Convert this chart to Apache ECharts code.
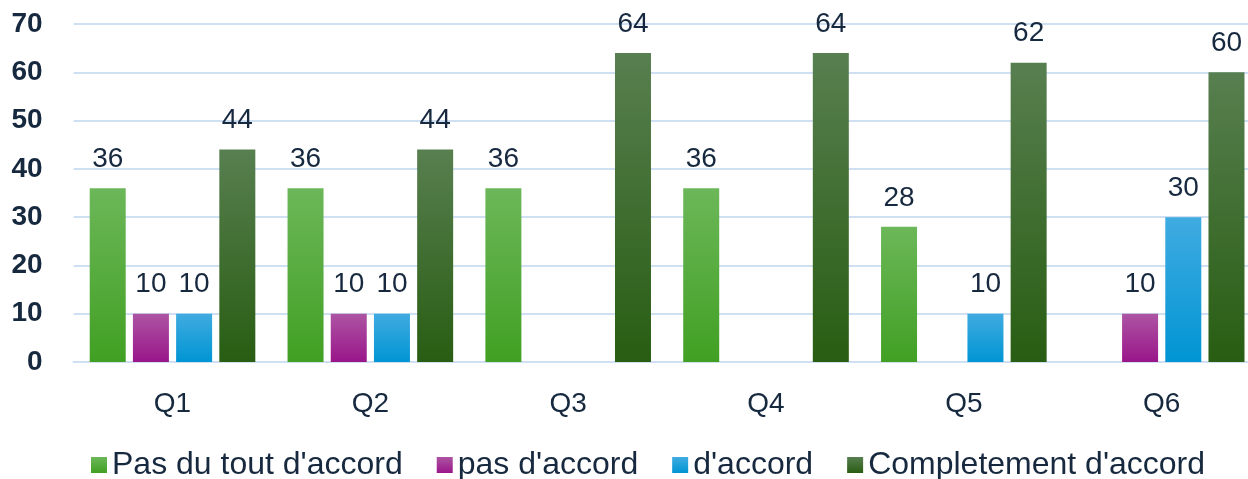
<!DOCTYPE html>
<html><head><meta charset="utf-8">
<script src="https://cdn.jsdelivr.net/npm/echarts@6/dist/echarts.min.js"></script>
<style>html,body{margin:0;padding:0;background:#fff}#c{width:1248px;height:479px}</style>
</head><body><div id="c"></div>
<script>
const categories = ['Q1','Q2','Q3','Q4','Q5','Q6'];
const seriesNames = ["Pas du tout d'accord","pas d'accord","d'accord","Completement d'accord"];
const pasDuTout = [36,36,36,36,28,null];
const pasAccord = [10,10,null,null,null,10];
const accord = [10,10,null,null,10,30];
const completement = [44,44,64,64,62,60];
const yTicks = [0,10,20,30,40,50,60,70];

const textColor = '#17293f';
const grads = [['#6cb759','#41a023'],['#ad54a3','#9a168a'],['#40abe1','#0095d3'],['#587f50','#285d12']];
function grad(c){return new echarts.graphic.LinearGradient(0,0,0,1,[{offset:0,color:c[0]},{offset:1,color:c[1]}]);}
const datas=[pasDuTout,pasAccord,accord,completement];
const chart = echarts.init(document.getElementById('c'));
chart.setOption({
  animation:false,
  grid:{left:73.6,width:1187,top:24,height:338,containLabel:false,outerBoundsMode:'none'},
  legend:{top:444,left:86,icon:'rect',itemWidth:16,itemHeight:16,itemGap:34,
    textStyle:{fontFamily:'Liberation Sans',fontSize:32,color:textColor},
    data:seriesNames.map((n,i)=>({name:n,itemStyle:{color:grad(grads[i])}}))},
  xAxis:{type:'category',data:categories,
    axisLine:{lineStyle:{color:'#cfe0f3',width:2}},axisTick:{show:false},
    axisLabel:{fontFamily:'Liberation Sans',fontSize:28,color:textColor,margin:28}},
  yAxis:{type:'value',min:yTicks[0],max:yTicks[yTicks.length-1],interval:10,
    axisLabel:{fontFamily:'Liberation Sans',fontSize:28,fontWeight:'bold',color:textColor,margin:31},
    axisLine:{show:false},axisTick:{show:false},
    splitLine:{lineStyle:{color:'#cfe0f3',width:2}}},
  series:seriesNames.map((n,i)=>({name:n,type:'bar',data:datas[i],barWidth:36,barGap:'20%',
    itemStyle:{color:grad(grads[i])},
    label:{show:true,position:'top',distance:15,fontFamily:'Liberation Sans',fontSize:28,color:textColor}}))
});
</script></body></html>
